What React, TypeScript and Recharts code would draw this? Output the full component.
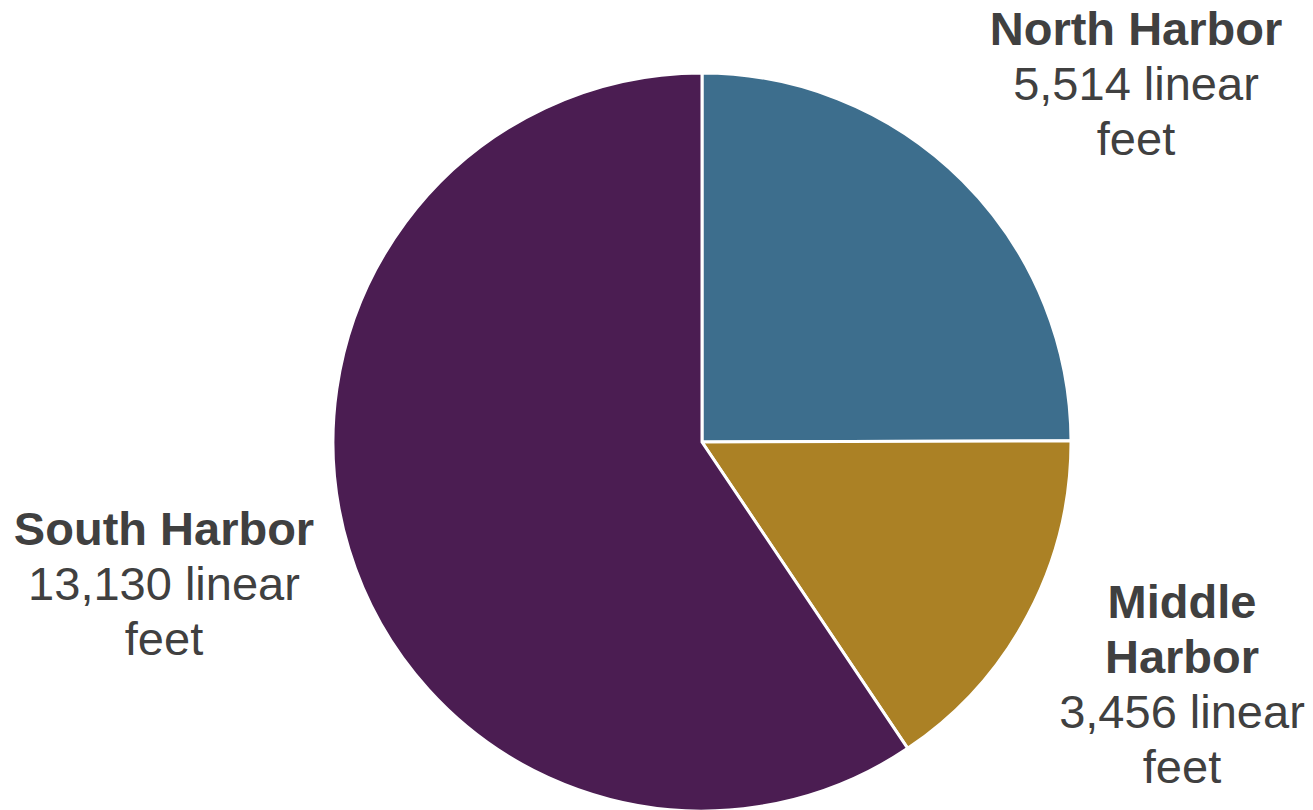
import React from "react";
import { PieChart, Pie, Cell } from "recharts";

const categories = ["North Harbor", "Middle Harbor", "South Harbor"];
const nameLines = [["North Harbor"], ["Middle", "Harbor"], ["South Harbor"]];
const values = [5514, 3456, 13130];
const colors = ["#3D6E8D", "#AB8125", "#4B1D52"];

// label anchor offsets (first-line baseline) relative to the pie centre
const labelOffsets = [
  { dx: 434, dy: -397 },
  { dx: 480, dy: 176 },
  { dx: -538, dy: 103 },
];

const data = categories.map((name, i) => ({ name, value: values[i] }));

const FONT = "'Liberation Sans', Arial, sans-serif";
const LINE = 55;

const renderLabel = (props: any) => {
  const { cx, cy, index, value } = props;
  const off = labelOffsets[index];
  const x = cx + off.dx;
  const y0 = cy + off.dy;
  const lines: { t: string; bold: boolean }[] = [
    ...nameLines[index].map((t) => ({ t, bold: true })),
    { t: `${Number(value).toLocaleString("en-US")} linear`, bold: false },
    { t: "feet", bold: false },
  ];
  return (
    <g key={`lbl-${index}`}>
      {lines.map((l, i) => (
        <text
          key={i}
          x={x}
          y={y0 + i * LINE}
          textAnchor="middle"
          fill="#404040"
          fontFamily={FONT}
          fontSize={47}
          fontWeight={l.bold ? 700 : 400}
        >
          {l.t}
        </text>
      ))}
    </g>
  );
};

export default function App() {
  return (
    <div style={{ position: "absolute", left: 0, top: 0, width: 1313, height: 810, background: "#fff" }}>
      <PieChart width={1313} height={810} margin={{ top: 0, right: 0, bottom: 0, left: 0 }}>
        <Pie
          data={data}
          dataKey="value"
          nameKey="name"
          cx={702}
          cy={442}
          outerRadius={369}
          innerRadius={0}
          startAngle={90}
          endAngle={-270}
          stroke="#ffffff"
          strokeWidth={3}
          label={renderLabel}
          labelLine={false}
          isAnimationActive={false}
        >
          {data.map((d, i) => (
            <Cell key={d.name} fill={colors[i]} />
          ))}
        </Pie>
      </PieChart>
    </div>
  );
}
